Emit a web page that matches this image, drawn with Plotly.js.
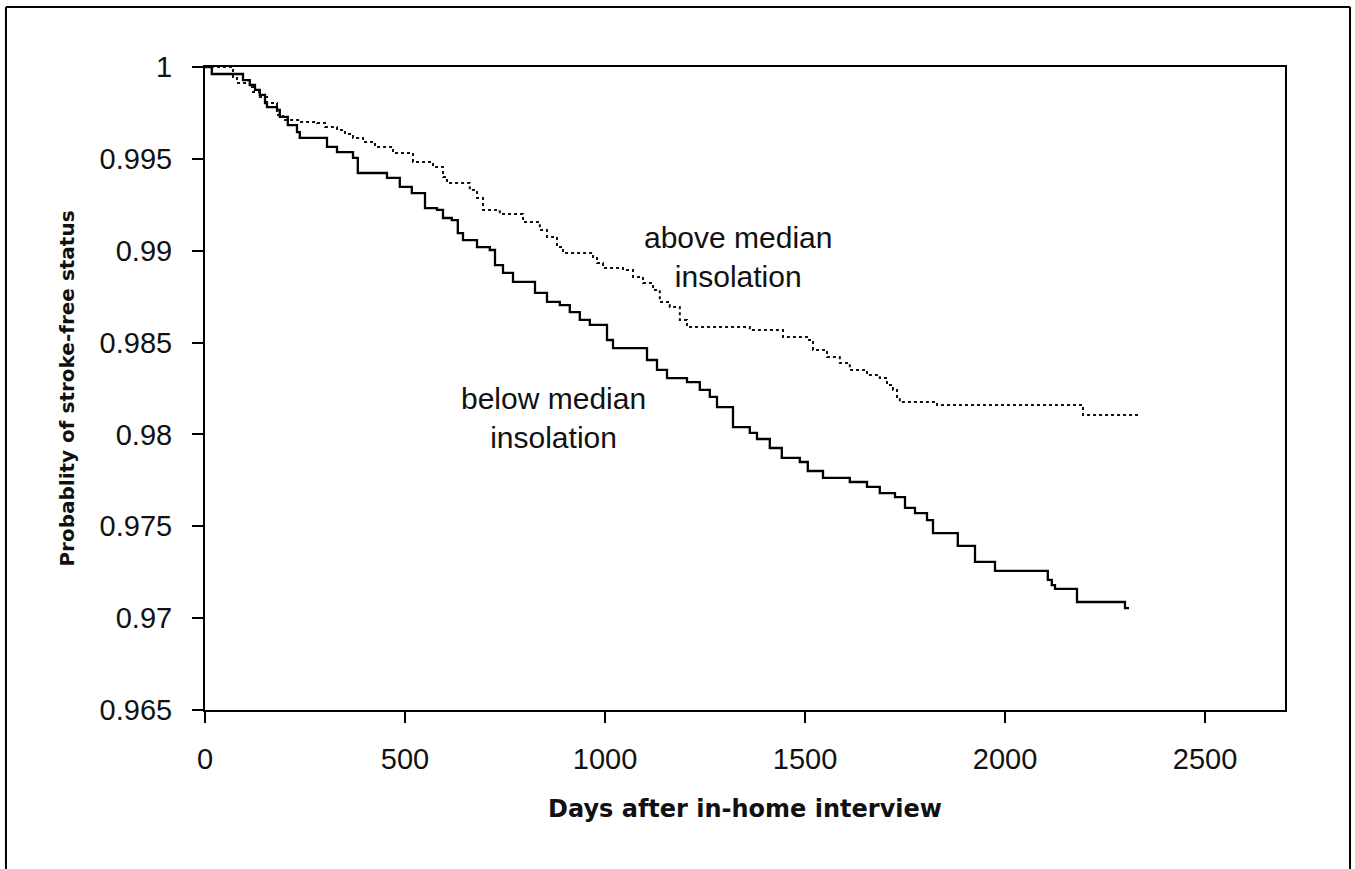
<!DOCTYPE html>
<html>
<head>
<meta charset="utf-8">
<script src="https://cdn.plot.ly/plotly-3.0.1.min.js"></script>
<style>html,body{margin:0;padding:0;background:#fff;}#chart{width:1355px;height:869px;}</style>
</head>
<body>
<div id="chart"></div>
<script>
// Kaplan-Meier style step curves (days after interview, survival probability)
const belowDays = [0, 17, 95, 112, 125, 137, 150, 155, 180, 187, 207, 230, 237, 305, 330, 370, 382, 455, 487, 517, 550, 580, 595, 617, 632, 645, 680, 712, 725, 745, 770, 825, 855, 887, 912, 937, 962, 1005, 1020, 1105, 1130, 1155, 1205, 1237, 1262, 1280, 1320, 1362, 1380, 1412, 1442, 1487, 1507, 1545, 1612, 1655, 1687, 1725, 1750, 1775, 1805, 1820, 1882, 1925, 1975, 2107, 2117, 2125, 2180, 2300, 2310];
const belowSurv = [1.0, 0.99962, 0.99929, 0.99902, 0.99875, 0.99848, 0.99804, 0.99782, 0.99766, 0.99728, 0.99684, 0.99646, 0.99614, 0.99565, 0.99537, 0.99505, 0.99423, 0.99396, 0.99347, 0.99314, 0.99232, 0.99222, 0.99178, 0.99167, 0.99096, 0.99058, 0.9902, 0.99004, 0.98922, 0.98879, 0.9883, 0.9877, 0.98721, 0.98704, 0.98666, 0.98623, 0.98596, 0.98514, 0.9847, 0.98405, 0.98351, 0.98307, 0.98285, 0.98242, 0.98204, 0.98149, 0.9804, 0.98008, 0.97975, 0.97926, 0.97872, 0.9785, 0.97801, 0.97763, 0.97741, 0.97714, 0.97681, 0.97659, 0.976, 0.97572, 0.97534, 0.97463, 0.97393, 0.97306, 0.97257, 0.97208, 0.9718, 0.97159, 0.97088, 0.97055, 0.97055];

const aboveDays = [0, 37, 70, 80, 112, 120, 137, 155, 180, 195, 237, 280, 300, 330, 350, 370, 395, 425, 470, 520, 570, 595, 605, 662, 680, 695, 737, 795, 837, 855, 880, 895, 970, 980, 995, 1045, 1070, 1095, 1120, 1137, 1162, 1187, 1205, 1362, 1445, 1505, 1520, 1555, 1587, 1612, 1655, 1687, 1705, 1720, 1730, 1737, 1830, 2195, 2337];
const aboveSurv = [1.0, 1.0, 0.9994, 0.99913, 0.99891, 0.99864, 0.99837, 0.99804, 0.99739, 0.99712, 0.99701, 0.99695, 0.99673, 0.99657, 0.99635, 0.99614, 0.99592, 0.99565, 0.99532, 0.99483, 0.99456, 0.99401, 0.99369, 0.9933, 0.99287, 0.99222, 0.992, 0.99156, 0.99113, 0.99075, 0.9902, 0.98988, 0.98966, 0.98933, 0.98906, 0.98895, 0.98857, 0.98824, 0.98786, 0.98721, 0.98694, 0.98623, 0.98585, 0.98568, 0.9853, 0.98514, 0.9846, 0.98421, 0.98389, 0.98351, 0.98323, 0.98307, 0.98269, 0.98242, 0.98204, 0.98176, 0.9816, 0.98106, 0.98106];

const xTitle = "Days after in-home interview";
const yTitle = "Probablity of stroke-free status";
const labelAbove = "above median<br>insolation";
const labelBelow = "below median<br>insolation";
const labelAbovePos = [1332, 0.98966];
const labelBelowPos = [870, 0.98089];

const tickFont = {family: "Liberation Sans, Arial, sans-serif", size: 29, color: "#111"};
const titleFont = {family: "DejaVu Sans, Verdana, sans-serif", size: 22, color: "#111", weight: "bold"};

const traces = [
  {x: belowDays, y: belowSurv, type: "scatter", mode: "lines", line: {shape: "hv", color: "#000", width: 2.3}, name: "below median insolation", showlegend: false},
  {x: aboveDays, y: aboveSurv, type: "scatter", mode: "lines", line: {shape: "hv", color: "#111", width: 2, dash: "dot"}, name: "above median insolation", showlegend: false}
];

const layout = {
  width: 1355, height: 869,
  paper_bgcolor: "#fff", plot_bgcolor: "#fff",
  margin: {l: 205, r: 70, t: 67, b: 159, pad: 0},
  showlegend: false,
  xaxis: {
    range: [0, 2700], dtick: 500, tick0: 0, showgrid: false, zeroline: false,
    showline: true, linecolor: "#000", linewidth: 2, mirror: true,
    ticks: "outside", ticklen: 11, tickwidth: 2, tickcolor: "#000",
    tickfont: tickFont, ticklabelstandoff: 11,
    title: {text: xTitle, font: Object.assign({}, titleFont, {size: 24}), standoff: 26},
    automargin: false, fixedrange: true
  },
  yaxis: {
    range: [0.965, 1.0], dtick: 0.005, tick0: 0.965, showgrid: false, zeroline: false,
    showline: true, linecolor: "#000", linewidth: 2, mirror: true,
    ticks: "outside", ticklen: 11, tickwidth: 2, tickcolor: "#000",
    tickfont: tickFont, ticklabelstandoff: 14,
    title: {text: yTitle, font: Object.assign({}, titleFont, {size: 20}), standoff: 20},
    automargin: false, fixedrange: true
  },
  annotations: [
    {x: labelAbovePos[0], y: labelAbovePos[1], xref: "x", yref: "y", text: labelAbove, showarrow: false, align: "center",
     font: {family: "Liberation Sans, Arial, sans-serif", size: 30, color: "#111"}},
    {x: labelBelowPos[0], y: labelBelowPos[1], xref: "x", yref: "y", text: labelBelow, showarrow: false, align: "center",
     font: {family: "Liberation Sans, Arial, sans-serif", size: 30, color: "#111"}}
  ],
  shapes: [
    {type: "line", xref: "paper", yref: "paper", x0: -0.1843, x1: -0.1843, y0: 1.0933, y1: -0.3, line: {color: "#000", width: 2}},
    {type: "line", xref: "paper", yref: "paper", x0: -0.1843, x1: 1.0602, y0: 1.0933, y1: 1.0933, line: {color: "#000", width: 2}},
    {type: "line", xref: "paper", yref: "paper", x0: 1.0602, x1: 1.0602, y0: 1.0933, y1: -0.3, line: {color: "#000", width: 2}}
  ]
};

Plotly.newPlot("chart", traces, layout, {displayModeBar: false, staticPlot: true});
</script>
</body>
</html>
